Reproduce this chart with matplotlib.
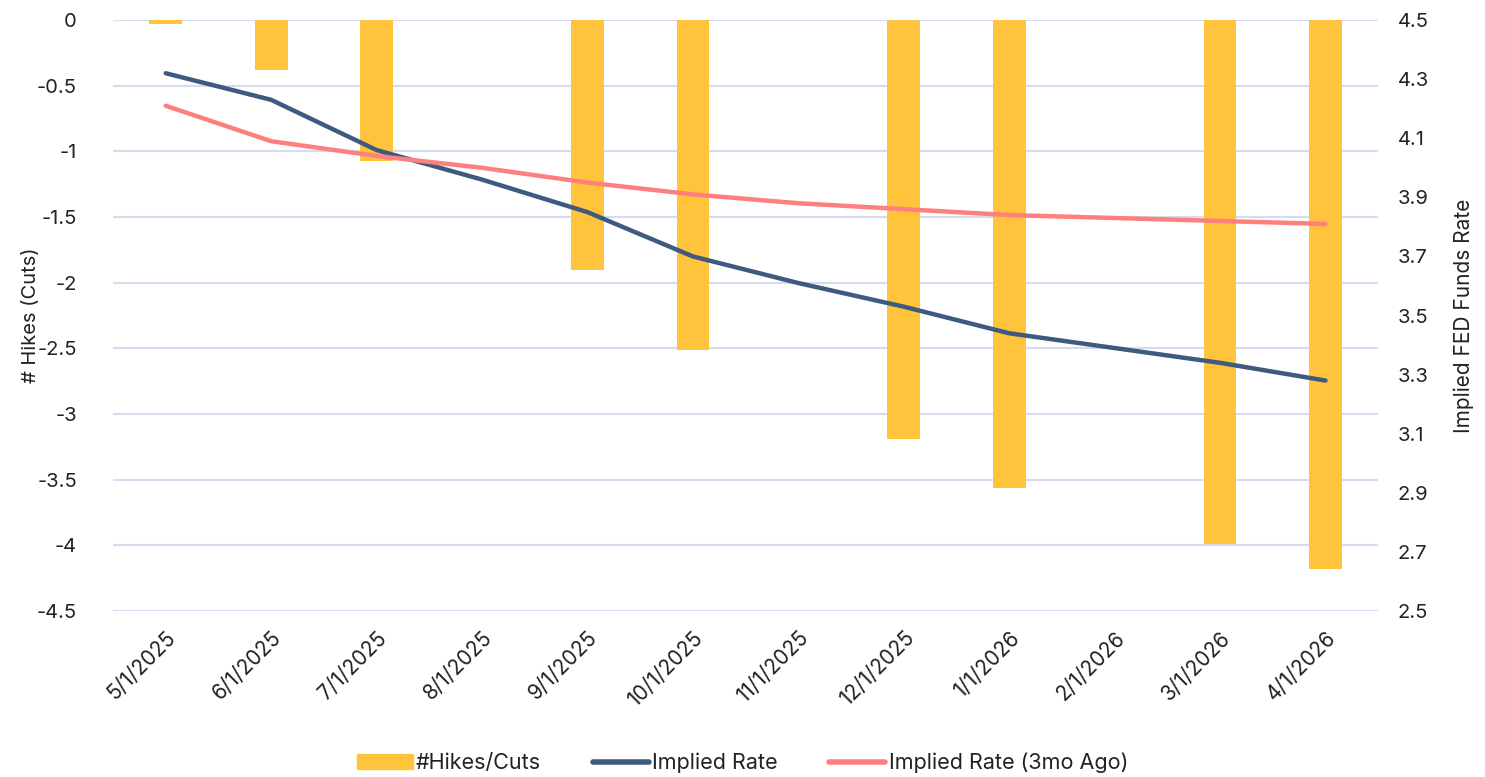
import numpy as np
import matplotlib.pyplot as plt
from matplotlib.patches import Patch
from matplotlib.lines import Line2D

plt.rcParams['font.family'] = ['Inter', 'DejaVu Sans']

# monthly meeting dates
dates = ["5/1/2025", "6/1/2025", "7/1/2025", "8/1/2025", "9/1/2025", "10/1/2025",
         "11/1/2025", "12/1/2025", "1/1/2026", "2/1/2026", "3/1/2026", "4/1/2026"]

# cumulative hikes/cuts (no meeting -> no bar)
hikes_cuts = [-0.03, -0.38, -1.07, np.nan, -1.90, -2.51,
              np.nan, -3.19, -3.56, np.nan, -3.99, -4.18]

# implied fed funds rate, today and 3 months ago
implied_rate = [4.32, 4.23, 4.06, 3.96, 3.85, 3.70, 3.61, 3.53, 3.44, 3.39, 3.34, 3.28]
implied_rate_3mo = [4.21, 4.09, 4.04, 4.00, 3.95, 3.91, 3.88, 3.86, 3.84, 3.83, 3.82, 3.81]

left_ticks = [-4.5, -4, -3.5, -3, -2.5, -2, -1.5, -1, -0.5, 0]
right_ticks = [2.5, 2.7, 2.9, 3.1, 3.3, 3.5, 3.7, 3.9, 4.1, 4.3, 4.5]

BAR = "#FFC33C"
BLUE = "#3E5A7E"
PINK = "#FF7F7F"
GRID = "#D6DCEF"
TEXT = "#222222"

x = np.arange(len(dates))

fig = plt.figure(figsize=(14.85, 7.77), dpi=100)
ax = fig.add_axes([0.0761, 0.2136, 0.852, 0.7606])
ax2 = ax.twinx()

ax.bar(x, hikes_cuts, width=0.31, color=BAR, zorder=2)
ax.set_xlim(-0.5, len(dates) - 0.5)
ax.set_ylim(-4.5, 0)
ax.set_yticks(left_ticks)
ax.set_yticklabels([f"{v:g}" for v in left_ticks])
ax.grid(axis="y", color=GRID, linewidth=1.5, zorder=0)
ax.set_axisbelow(True)

ax2.plot(x, implied_rate, color=BLUE, linewidth=3.2, solid_capstyle="round", zorder=3)
ax2.plot(x, implied_rate_3mo, color=PINK, linewidth=3.2, solid_capstyle="round", zorder=3)
ax2.set_ylim(2.5, 4.5)
ax2.set_yticks(right_ticks)
ax2.set_yticklabels([f"{v:.1f}" for v in right_ticks])

for a in (ax, ax2):
    for s in a.spines.values():
        s.set_visible(False)
    a.tick_params(length=0, labelsize=14.5, labelcolor=TEXT)

ax.tick_params(axis="y", pad=26)
ax2.tick_params(axis="y", pad=14)

ax.set_xticks(x)
ax.set_xticklabels(dates, rotation=45, ha="right", va="top", rotation_mode="anchor")
ax.tick_params(axis="x", labelsize=15, pad=12)

ax.set_ylabel("# Hikes (Cuts)", fontsize=14.5, color=TEXT, labelpad=-2)
ax2.set_ylabel("Implied FED Funds Rate", fontsize=15, color=TEXT, labelpad=18)

handles = [
    Patch(color=BAR, label="#Hikes/Cuts"),
    Line2D([], [], color=BLUE, linewidth=4, solid_capstyle="round", label="Implied Rate"),
    Line2D([], [], color=PINK, linewidth=4, solid_capstyle="round", label="Implied Rate (3mo Ago)"),
]
fig.legend(handles=handles, loc="center", bbox_to_anchor=(0.5, 0.018), ncol=3,
           frameon=False, fontsize=15.5, handlelength=2.6, handletextpad=0.15,
           columnspacing=2.4, labelcolor=TEXT)

fig.savefig("out.png", dpi=100)
